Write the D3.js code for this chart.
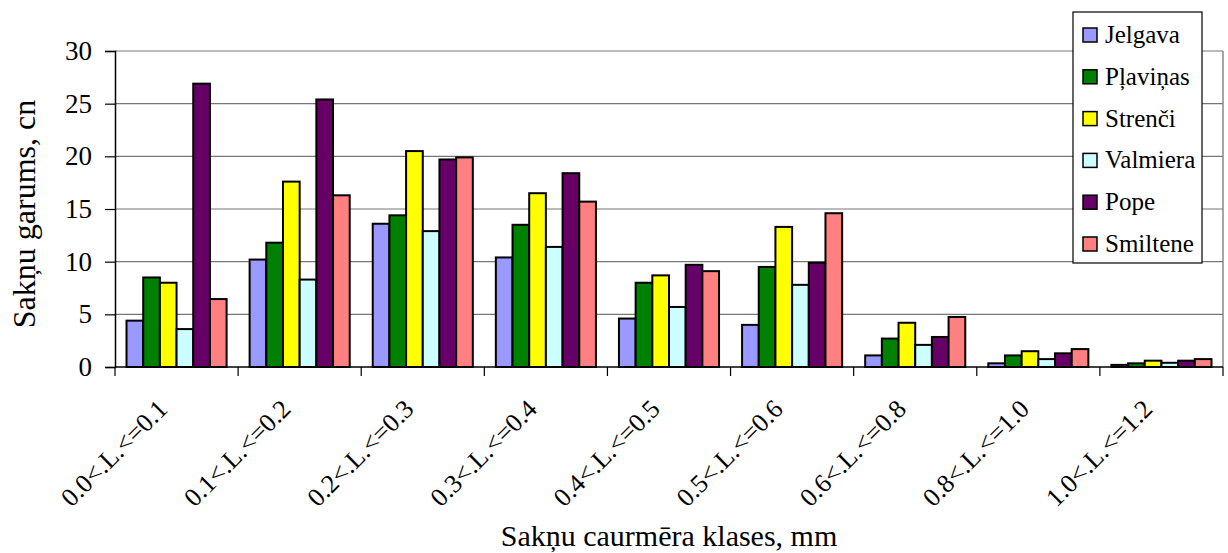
<!DOCTYPE html>
<html><head><meta charset="utf-8">
<script src="https://cdn.jsdelivr.net/npm/d3@7"></script>
<style>body{margin:0;background:#fff}svg{display:block}</style>
</head><body><svg id="c" width="1228" height="553" font-family="Liberation Serif"></svg>
<script>
const categories = ["0.0<.L.<=0.1","0.1<.L.<=0.2","0.2<.L.<=0.3","0.3<.L.<=0.4","0.4<.L.<=0.5","0.5<.L.<=0.6","0.6<.L.<=0.8","0.8<.L.<=1.0","1.0<.L.<=1.2"];
const seriesNames = ["Jelgava","Pļaviņas","Strenči","Valmiera","Pope","Smiltene"];
const seriesColors = ["#9999FF","#008000","#FFFF00","#CCFFFF","#660066","#FF8080"];
const jelgava  = [4.4, 10.2, 13.6, 10.4, 4.6, 4.0, 1.1, 0.35, 0.2];
const plavinas = [8.5, 11.8, 14.4, 13.5, 8.0, 9.5, 2.7, 1.1, 0.35];
const strenci  = [8.0, 17.6, 20.5, 16.5, 8.7, 13.3, 4.2, 1.5, 0.6];
const valmiera = [3.6, 8.3, 12.9, 11.4, 5.7, 7.8, 2.1, 0.75, 0.4];
const pope     = [26.9, 25.4, 19.7, 18.4, 9.7, 9.9, 2.85, 1.3, 0.6];
const smiltene = [6.45, 16.3, 19.9, 15.7, 9.1, 14.6, 4.75, 1.7, 0.75];
const yTicks = [0,5,10,15,20,25,30];
const yTitle = "Sakņu garums, cn";
const xTitle = "Sakņu caurmēra klases, mm";

const FF = "Liberation Serif";
const values = [jelgava, plavinas, strenci, valmiera, pope, smiltene];
const svg = d3.select("#c");
const L = 115, R = 1223, T = 51, B = 367;
const x = d3.scaleBand().domain(categories).range([L, R]).paddingInner(0.187).paddingOuter(0.0935);
const xs = d3.scaleBand().domain(seriesNames).range([0, x.bandwidth()]);
const y = d3.scaleLinear().domain([0, 30]).range([B, T]);

// gridlines
svg.append("g").selectAll("line").data(yTicks.filter(d=>d>0)).join("line")
  .attr("x1", L).attr("x2", R).attr("y1", d=>y(d)).attr("y2", d=>y(d))
  .attr("stroke", "#777").attr("stroke-width", 1.2);
svg.append("line").attr("x1", R).attr("x2", R).attr("y1", T).attr("y2", B).attr("stroke", "#888").attr("stroke-width", 1.5);

// bars
const g = svg.append("g");
categories.forEach((c, ci) => {
  g.append("g").selectAll("rect").data(seriesNames.map((s, si) => ({s, si, v: values[si][ci]}))).join("rect")
    .attr("x", d => x(c) + xs(d.s)).attr("width", xs.bandwidth())
    .attr("y", d => y(d.v)).attr("height", d => y(0) - y(d.v))
    .attr("fill", d => seriesColors[d.si]).attr("stroke", "#000").attr("stroke-width", 2);
});

// y axis
const ya = svg.append("g").attr("transform", `translate(${L},0)`)
  .call(d3.axisLeft(y).tickValues(yTicks).tickSize(10).tickPadding(13))
  .attr("font-family", FF).attr("font-size", 27);
ya.select(".domain").attr("stroke", "#000").attr("stroke-width", 1.5);
ya.selectAll(".tick line").attr("stroke", "#000").attr("stroke-width", 1.2);
ya.selectAll("text").attr("font-family", FF).attr("font-size", 27).attr("fill", "#000");

// x axis
svg.append("line").attr("x1", L).attr("x2", R).attr("y1", B).attr("y2", B).attr("stroke", "#000").attr("stroke-width", 1.5);
const step = x.step();
svg.append("g").selectAll("line").data(d3.range(categories.length + 1)).join("line")
  .attr("x1", i => L + i * step).attr("x2", i => L + i * step).attr("y1", B).attr("y2", B + 9)
  .attr("stroke", "#000").attr("stroke-width", 1.2);
svg.append("g").selectAll("text").data(categories).join("text")
  .attr("transform", d => `translate(${x(d) + x.bandwidth()/2 - 14},${B + 37}) rotate(-45)`)
  .attr("text-anchor", "end").attr("dy", "0.35em").attr("font-family", FF).attr("font-size", 26).text(d => d);

// titles
svg.append("text").attr("x", (L + R) / 2).attr("y", 546).attr("text-anchor", "middle").attr("font-family", FF).attr("font-size", 30).text(xTitle);
svg.append("text").attr("transform", `translate(35,214) rotate(-90)`).attr("text-anchor", "middle").attr("font-family", FF).attr("font-size", 32).text(yTitle);

// legend
const lg = svg.append("g");
lg.append("rect").attr("x", 1073).attr("y", 12).attr("width", 129).attr("height", 251).attr("fill", "#fff").attr("stroke", "#000").attr("stroke-width", 1.2);
const rows = lg.selectAll("g").data(seriesNames).join("g").attr("transform", (d, i) => `translate(1083,${35 + i * 41.8})`);
rows.append("rect").attr("x", 0).attr("y", -7).attr("width", 14).attr("height", 14)
  .attr("fill", (d, i) => seriesColors[i]).attr("stroke", "#000").attr("stroke-width", 1.5);
rows.append("text").attr("x", 22).attr("y", 8).attr("font-family", FF).attr("font-size", 25).text(d => d);
</script></body></html>
